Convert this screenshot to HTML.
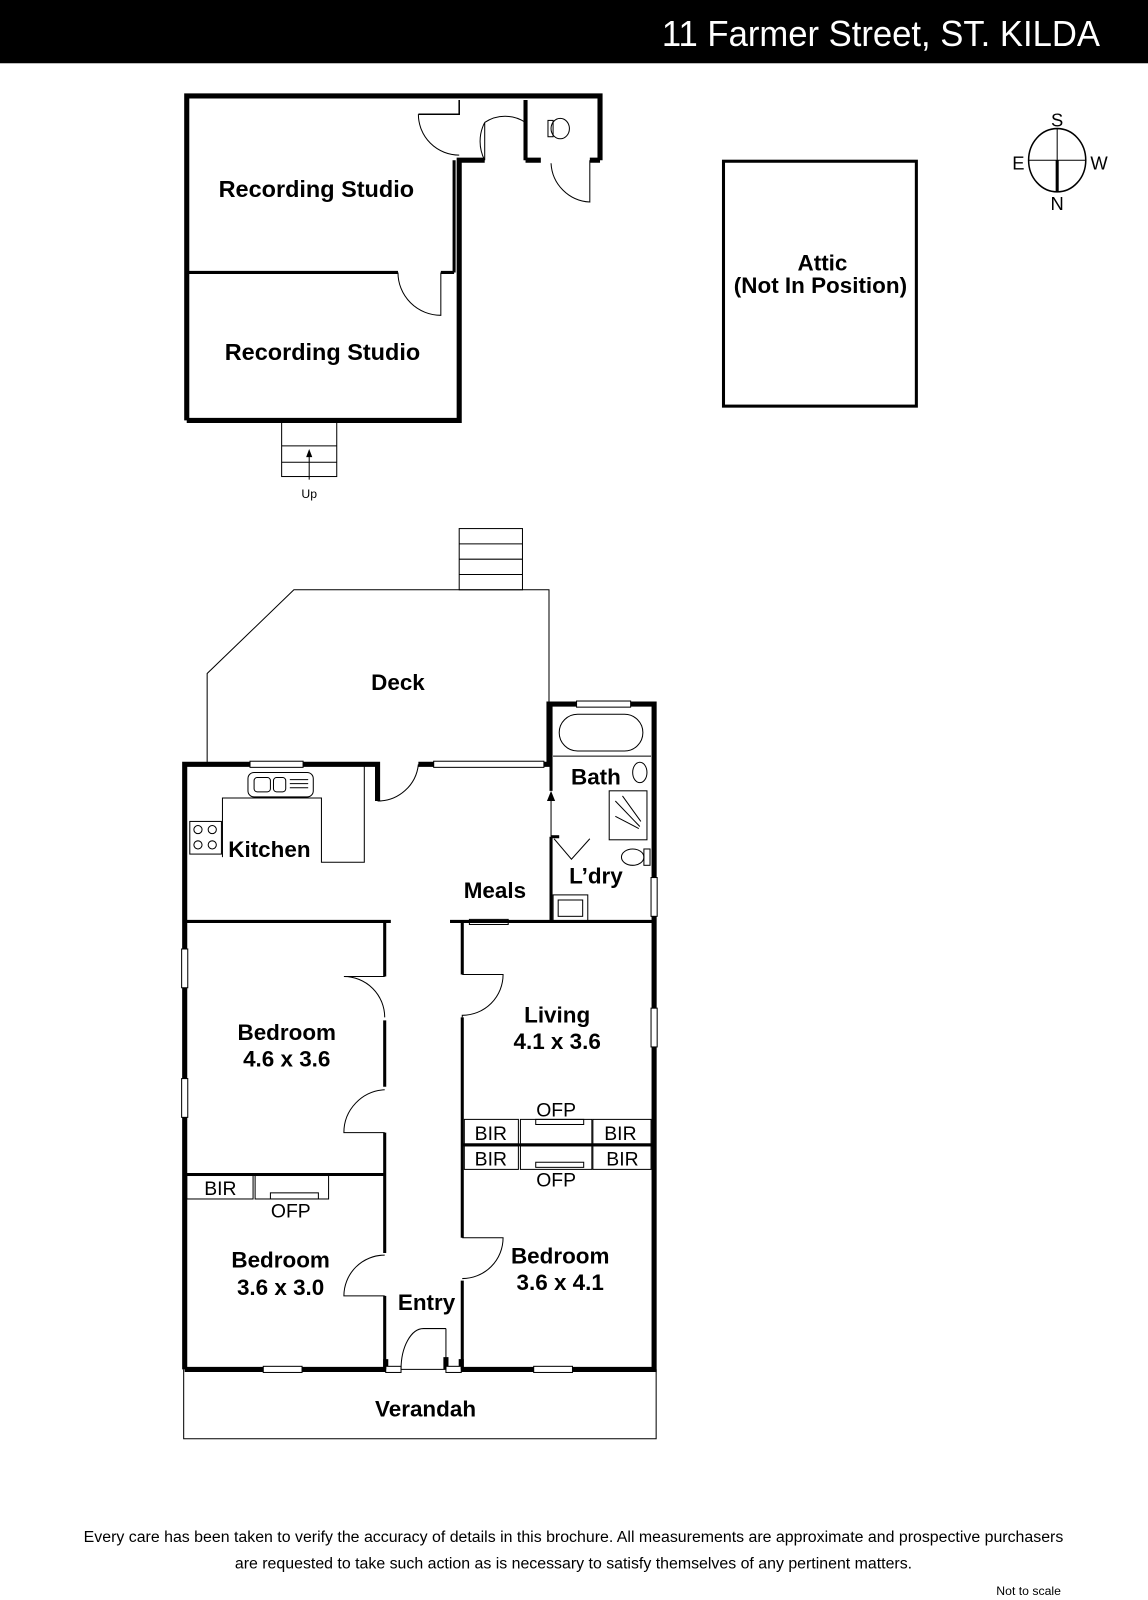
<!DOCTYPE html>
<html><head><meta charset="utf-8"><style>
html,body{margin:0;padding:0;background:#fff;}
svg{display:block}
text{font-family:"Liberation Sans",sans-serif;fill:#000}
.b{font-weight:bold;font-size:22px;text-anchor:middle}
.s{font-size:19px;text-anchor:middle}
</style></head><body>
<svg width="1148" height="1600" viewBox="0 0 1125 1568" preserveAspectRatio="none" xmlns="http://www.w3.org/2000/svg">
<rect x="0" y="0" width="1125" height="62" fill="#000"/>
<text x="1078" y="45" style="font-size:35px;fill:#fff;text-anchor:end" transform="translate(1078 0) scale(0.97 1) translate(-1078 0)">11 Farmer Street, ST. KILDA</text>

<g fill="none" stroke="#000">
<path d="M183 412 V94 H588 V157" stroke-width="5"/>
<path d="M183 412 H450 V157 H475" stroke-width="5"/>
<path d="M515 157 H530 M578 157 H588" stroke-width="5"/>
<path d="M515 98 V157" stroke-width="4"/>
<path d="M183 267 H390 M432 267 H445" stroke-width="3"/>
<path d="M445 267 V157" stroke-width="3"/>
<path d="M410 112 H450 V98" stroke-width="1.5"/>
<path d="M410 112 A40 40 0 0 0 450 152" stroke-width="1"/>
<path d="M475 157 V120 A40 40 0 0 0 475 157" stroke-width="1"/>
<path d="M475 120 A36 36 0 0 1 515 120" stroke-width="1"/>
<path d="M578 157 V198 A40 40 0 0 1 540 160" stroke-width="1"/>
<path d="M390 267 A42 42 0 0 0 432 309 V267" stroke-width="1"/>
<ellipse cx="549" cy="126" rx="9" ry="10" stroke-width="1"/>
<rect x="537" y="118" width="5" height="16" stroke-width="1"/>
<rect x="276" y="413" width="54" height="54" stroke-width="1"/>
<path d="M276 437 H330 M276 453 H330 M303 470 V443" stroke-width="1"/>
<rect x="709" y="158" width="189" height="240" stroke-width="3"/>
<ellipse cx="1036" cy="157" rx="28" ry="31" stroke-width="1.5"/>
<path d="M1008 157 H1064 M1036 126 V157" stroke-width="1"/>
<path d="M1036 157 V188" stroke-width="3"/>

<path d="M203 747 V660 L288 578 H538 V690" stroke-width="1"/>
<rect x="450" y="518" width="62" height="60" stroke-width="1"/>
<path d="M450 533 H512 M450 548 H512 M450 563 H512" stroke-width="1"/>

<path d="M181 1342 V749 H370 V785" stroke-width="5"/>
<path d="M410 749 H538 V690 H641 V1342 H452 V1332" stroke-width="5"/>
<path d="M181 1342 H378 V1332 M437 1342 V1330" stroke-width="5"/>
<path d="M393 1342 H437" stroke-width="1"/>
<g stroke-width="1" fill="#fff">
<rect x="245" y="746" width="52" height="6"/>
<rect x="425" y="746" width="108" height="6"/>
<rect x="565" y="687" width="53" height="6"/>
<rect x="638" y="860" width="6" height="38"/>
<rect x="638" y="988" width="6" height="38"/>
<rect x="178" y="930" width="6" height="38"/>
<rect x="178" y="1057" width="6" height="38"/>
<rect x="258" y="1339" width="38" height="6"/>
<rect x="523" y="1339" width="38" height="6"/>
<rect x="378" y="1339" width="15" height="6"/>
<rect x="437" y="1339" width="15" height="6"/>
<rect x="460" y="901" width="38" height="5"/>
</g>
<path d="M370 785 A40 40 0 0 0 410 749" stroke-width="1"/>
<path d="M181 903 H383 M441 903 H641" stroke-width="3"/>
<path d="M377 903 V957 M377 1000 V1065 M377 1110 V1228 M377 1270 V1342" stroke-width="3"/>
<path d="M453 903 V955 M453 997 V1213 M453 1255 V1342" stroke-width="3"/>
<path d="M181 1151 H377" stroke-width="3"/>
<path d="M453 1122 H641" stroke-width="3"/>
<path d="M540 690 V775 M540 820 V903" stroke-width="3"/>
<path d="M540 820 H548" stroke-width="3"/>
<g stroke-width="1">
<path d="M377 957 H337 A40 40 0 0 1 377 997"/>
<path d="M377 1110 H337 A42 42 0 0 1 377 1068"/>
<path d="M377 1270 H337 A40 40 0 0 1 377 1230"/>
<path d="M453 955 H493 A40 40 0 0 1 453 995 V997"/>
<path d="M453 1213 H493 A40 40 0 0 1 453 1253"/>
<path d="M437 1302 H415 A22 40 0 0 0 393 1342"/>
<path d="M437 1302 V1342"/>
<path d="M540 820 V780"/>
<path d="M218 840 V782 H315 V845 H357 V749"/>
<rect x="243" y="757" width="64" height="24" rx="6"/>
<rect x="249" y="762" width="16" height="14" rx="3"/>
<rect x="268" y="762" width="12" height="14" rx="3"/>
<path d="M284 764 H302 M284 768 H302 M284 772 H302"/>
<rect x="186" y="805" width="31" height="32"/>
<circle cx="194" cy="813" r="4"/><circle cx="208" cy="813" r="4"/>
<circle cx="194" cy="828" r="4"/><circle cx="208" cy="828" r="4"/>
<path d="M542 741 H638"/>
<rect x="548" y="700" width="82" height="36" rx="18"/>
<ellipse cx="627" cy="757" rx="7" ry="10"/>
<rect x="597" y="775" width="37" height="48"/>
<path d="M603 785 L627 810 M610 780 L628 805 M603 800 L626 812"/>
<ellipse cx="620" cy="840" rx="11" ry="8"/>
<rect x="631" y="832" width="6" height="16"/>
<path d="M543 822 L560 842 L578 822"/>
<rect x="542" y="877" width="34" height="26"/>
<rect x="547" y="882" width="24" height="16"/>
<rect x="183" y="1152" width="65" height="23"/>
<rect x="250" y="1152" width="72" height="23"/>
<rect x="265" y="1169" width="47" height="6"/>
<rect x="455" y="1097" width="53" height="24"/>
<rect x="510" y="1097" width="70" height="24"/>
<rect x="525" y="1097" width="47" height="5"/>
<rect x="581" y="1097" width="57" height="24"/>
<rect x="455" y="1123" width="53" height="23"/>
<rect x="510" y="1123" width="70" height="23"/>
<rect x="525" y="1139" width="47" height="5"/>
<rect x="581" y="1123" width="57" height="23"/>
<path d="M180 1342 V1410 H643 V1342"/>
</g>
</g>
<path d="M540 775 L536 785 H544 Z" fill="#000"/>
<path d="M303 440 L300 448 H306 Z" fill="#000"/>

<g style="font-size:23px;font-weight:bold;text-anchor:middle">
<text x="310" y="193">Recording Studio</text>
<text x="316" y="353">Recording Studio</text>
</g>
<text x="806" y="265" style="font-size:22px;text-anchor:middle;font-weight:600">Attic</text>
<text x="804" y="287" style="font-size:22px;text-anchor:middle;font-weight:600">(Not In Position)</text>
<text x="303" y="488" style="font-size:12px;text-anchor:middle">Up</text>
<g style="font-size:18px;text-anchor:middle">
<text x="1036" y="124">S</text><text x="1036" y="206">N</text>
<text x="998" y="166">E</text><text x="1077" y="166">W</text>
</g>
<text class="b" x="390" y="676">Deck</text>
<text class="b" x="264" y="840">Kitchen</text>
<text class="b" x="584" y="769">Bath</text>
<text class="b" x="584" y="866">L’dry</text>
<text class="b" x="485" y="880">Meals</text>
<text class="b" x="281" y="1019">Bedroom</text>
<text class="b" x="281" y="1045">4.6 x 3.6</text>
<text class="b" x="546" y="1002">Living</text>
<text class="b" x="546" y="1028">4.1 x 3.6</text>
<text class="b" x="275" y="1242">Bedroom</text>
<text class="b" x="275" y="1269">3.6 x 3.0</text>
<text class="b" x="549" y="1238">Bedroom</text>
<text class="b" x="549" y="1264">3.6 x 4.1</text>
<text class="b" x="418" y="1284">Entry</text>
<text class="b" x="417" y="1388">Verandah</text>
<text class="s" x="216" y="1171">BIR</text>
<text class="s" x="285" y="1193">OFP</text>
<text class="s" x="481" y="1117">BIR</text>
<text class="s" x="608" y="1117">BIR</text>
<text class="s" x="481" y="1142">BIR</text>
<text class="s" x="610" y="1142">BIR</text>
<text class="s" x="545" y="1094">OFP</text>
<text class="s" x="545" y="1163">OFP</text>
<text x="562" y="1511" style="font-size:15.6px;text-anchor:middle">Every care has been taken to verify the accuracy of details in this brochure.  All measurements are approximate and prospective purchasers</text>
<text x="562" y="1537" style="font-size:15.6px;text-anchor:middle">are requested to take such action as is necessary to satisfy themselves of any pertinent matters.</text>
<text x="1008" y="1563" style="font-size:12px;text-anchor:middle">Not to scale</text>
</svg>
</body></html>
